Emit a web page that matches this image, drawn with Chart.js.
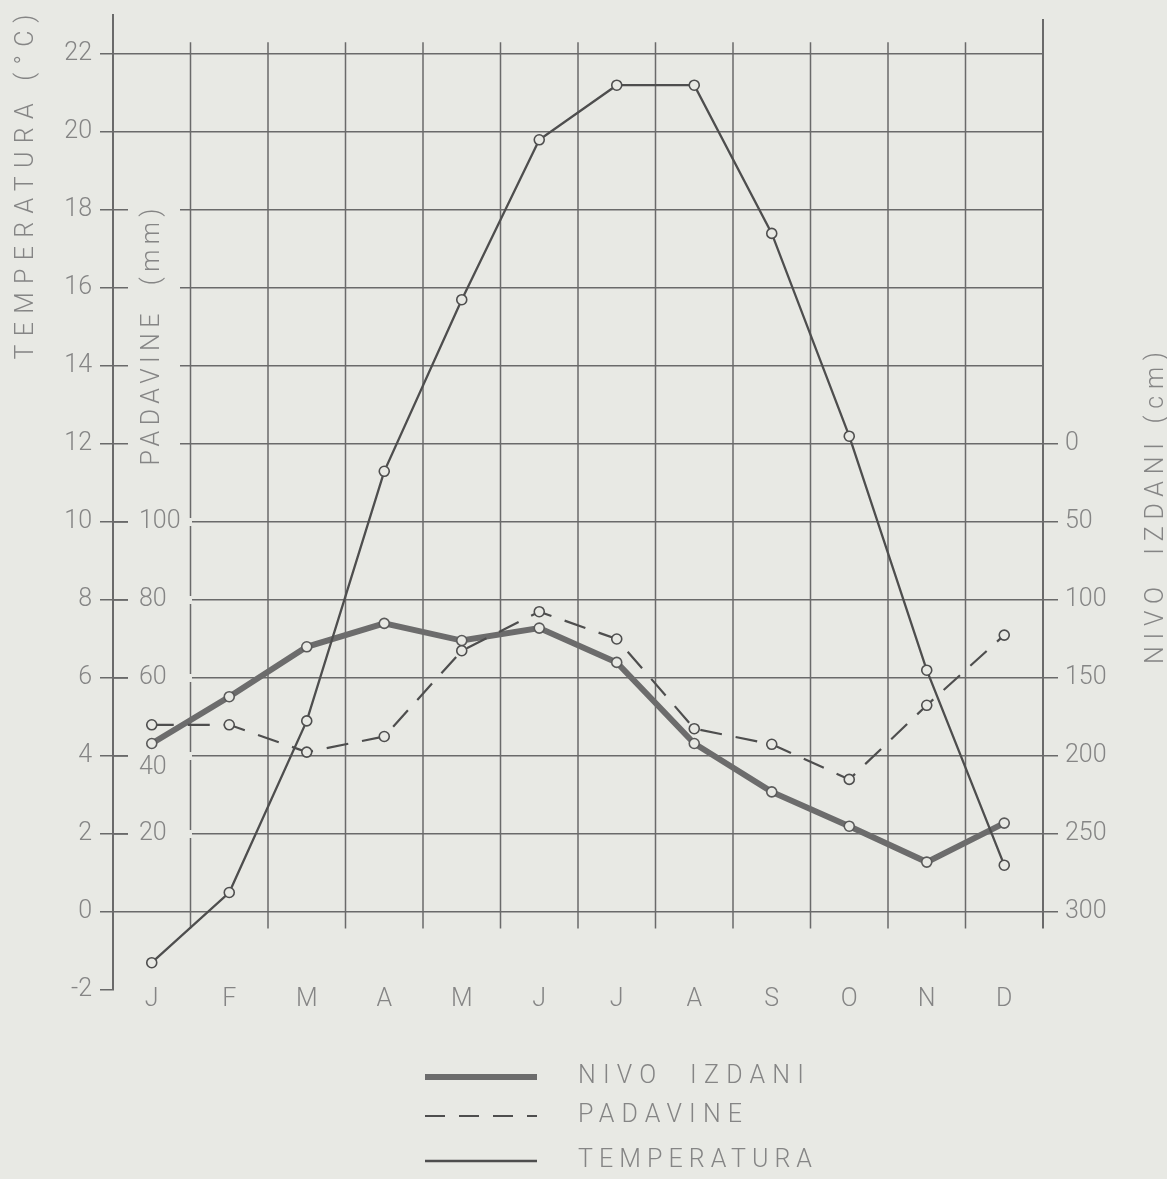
<!DOCTYPE html>
<html lang="hr">
  <head>
    <meta charset="UTF-8" />
    <title>Temperatura, padavine i nivo izdani</title>
    <script src="https://cdn.jsdelivr.net/npm/chart.js@4"></script>
    <style>
      body { margin: 0; background: #e8e9e4; }
      #wrap { width: 1167px; height: 1179px; position: relative; }
    </style>
  </head>
  <body>
    <div id="wrap"><canvas id="myChart"></canvas></div>

    <script>
      // monthly values
      const MONTHS = ['J', 'F', 'M', 'A', 'M', 'J', 'J', 'A', 'S', 'O', 'N', 'D'];
      const TEMPERATURA = [-1.3, 0.5, 4.9, 11.3, 15.7, 19.8, 21.2, 21.2, 17.4, 12.2, 6.2, 1.2]; // °C
      const PADAVINE = [48, 48, 41, 45, 67, 77, 70, 47, 43, 34, 53, 71];                      // mm
      const NIVO = [192, 162, 130, 115, 126, 118, 140, 192, 223, 245, 268, 243];              // cm

      const TEMP_TICKS = [-2, 0, 2, 4, 6, 8, 10, 12, 14, 16, 18, 20, 22];
      const PADAVINE_TICKS = [20, 40, 60, 80, 100];
      const NIVO_TICKS = [0, 50, 100, 150, 200, 250, 300];

      const BG = '#e8e9e4';
      const LINE = '#6a6a6a';
      const INK = '#4e4e4e';
      const TEXT = '#858585';
      const FONT = 'Roboto, "DejaVu Sans", sans-serif';

      // the three axes share one grid: 10 mm per °C, nivo 0 cm at 12 °C, 25 cm per °C downwards
      const T_MIN = -2, T_MAX = 23;
      const GRID_TOP = 22.3, GRID_BOTTOM = -0.42;

      function spacedText(ctx, text, cx, cy, width) {
        ctx.letterSpacing = '0px';
        const w = ctx.measureText(text).width;
        const sp = (width - w) / (text.length - 1);
        ctx.letterSpacing = sp + 'px';
        ctx.textAlign = 'left';
        ctx.fillText(text, cx - width / 2, cy);
        ctx.letterSpacing = '0px';
      }

      function noPad(s) {
        s.paddingTop = 0;
        s.paddingBottom = 0;
      }

      const decor = {
        id: 'decor',
        beforeDatasetsDraw(chart) {
          const { ctx, chartArea: ca } = chart;
          const x = chart.scales.x, y = chart.scales.y, yP = chart.scales.yP;
          ctx.save();

          // month columns: grid stops a little under 0 °C
          ctx.strokeStyle = LINE;
          ctx.lineWidth = 1.5;
          const step = x.getPixelForValue(1) - x.getPixelForValue(0);
          ctx.beginPath();
          for (let i = 0; i < MONTHS.length - 1; i++) {
            const px = x.getPixelForValue(i) + step / 2;
            ctx.moveTo(px, y.getPixelForValue(GRID_TOP));
            ctx.lineTo(px, y.getPixelForValue(GRID_BOTTOM));
          }
          ctx.stroke();

          // gaps in the grid behind the precipitation labels and title
          ctx.fillStyle = BG;
          PADAVINE_TICKS.forEach(v => {
            const py = yP.getPixelForValue(v);
            ctx.fillRect(ca.left + 15, py - 4, 64, 8);
          });
          ctx.fillRect(ca.left + 15, y.getPixelForValue(18) - 4, 52, y.getPixelForValue(12) - y.getPixelForValue(18) + 8);

          // right axis line ends with the grid
          ctx.lineWidth = 2;
          ctx.beginPath();
          ctx.moveTo(ca.right, y.getPixelForValue(22.9));
          ctx.lineTo(ca.right, y.getPixelForValue(GRID_BOTTOM));
          ctx.stroke();

          ctx.font = '300 25px ' + FONT;
          ctx.fillStyle = TEXT;
          ctx.textBaseline = 'middle';

          // month letters sit just under the -2 level
          ctx.textAlign = 'center';
          MONTHS.forEach((m, i) => {
            ctx.fillText(m, x.getPixelForValue(i), y.getPixelForValue(T_MIN) + 10);
          });

          // precipitation axis, drawn inside the plot
          ctx.lineWidth = 1.5;
          ctx.textAlign = 'left';
          PADAVINE_TICKS.forEach(v => {
            const py = yP.getPixelForValue(v);
            ctx.beginPath();
            ctx.moveTo(ca.left, py);
            ctx.lineTo(ca.left + 15, py);
            ctx.stroke();
            ctx.fillText(String(v), ca.left + 26, py + (v === 40 ? 12 : 0));
          });

          // axis titles
          ctx.save();
          ctx.translate(27, 187);
          ctx.rotate(-Math.PI / 2);
          spacedText(ctx, 'TEMPERATURA (°C)', 0, 0, 345);
          ctx.restore();

          ctx.save();
          ctx.translate(153, 337);
          ctx.rotate(-Math.PI / 2);
          spacedText(ctx, 'PADAVINE  (mm)', 0, 0, 257);
          ctx.restore();

          ctx.save();
          ctx.translate(1157, 508);
          ctx.rotate(-Math.PI / 2);
          spacedText(ctx, 'NIVO  IZDANI (cm)', 0, 0, 312);
          ctx.restore();

          ctx.restore();
        },
        afterDraw(chart) {
          const { ctx } = chart;
          const items = [
            { label: 'NIVO  IZDANI', width: 6, dash: [], color: '#6c6c6c', y: 1077, tw: 226 },
            { label: 'PADAVINE', width: 2.2, dash: [20, 14], color: INK, y: 1116, tw: 164 },
            { label: 'TEMPERATURA', width: 2.5, dash: [], color: INK, y: 1161, tw: 234 }
          ];
          ctx.save();
          items.forEach(it => {
            ctx.strokeStyle = it.color;
            ctx.lineWidth = it.width;
            ctx.setLineDash(it.dash);
            ctx.beginPath();
            ctx.moveTo(425, it.y);
            ctx.lineTo(537, it.y);
            ctx.stroke();
            ctx.setLineDash([]);
            ctx.font = '300 25px ' + FONT;
            ctx.fillStyle = TEXT;
            ctx.textBaseline = 'middle';
            spacedText(ctx, it.label, 578 + it.tw / 2, it.y, it.tw);
          });
          ctx.restore();
        }
      };

      function point(color) {
        return {
          pointRadius: 5,
          pointHoverRadius: 5,
          pointBackgroundColor: BG,
          pointBorderColor: color,
          pointBorderWidth: 1.6,
          tension: 0
        };
      }

      const ctx = document.getElementById('myChart').getContext('2d');
      const myChart = new Chart(ctx, {
        type: 'line',
        data: {
          labels: MONTHS,
          datasets: [
            Object.assign({
              label: 'TEMPERATURA',
              data: TEMPERATURA,
              yAxisID: 'y',
              borderColor: INK,
              borderWidth: 2.3
            }, point(INK)),
            Object.assign({
              label: 'PADAVINE',
              data: PADAVINE,
              yAxisID: 'yP',
              borderColor: INK,
              borderWidth: 2.2,
              borderDash: [22, 14]
            }, point(INK)),
            Object.assign({
              label: 'NIVO IZDANI',
              data: NIVO,
              yAxisID: 'yN',
              borderColor: '#6c6c6c',
              borderWidth: 6
            }, point('#5a5a5a'))
          ]
        },
        options: {
          responsive: true,
          maintainAspectRatio: false,
          animation: false,
          layout: { padding: { top: 15, bottom: 150, left: 0, right: 0 } },
          plugins: { legend: { display: false }, tooltip: { enabled: false } },
          scales: {
            x: {
              type: 'category',
              offset: true,
              grid: { display: false },
              border: { display: false },
              ticks: { display: false },
              afterFit: s => { s.height = 39; s.paddingLeft = 0; s.paddingRight = 0; }
            },
            y: {
              position: 'left',
              min: T_MIN,
              max: T_MAX,
              afterBuildTicks: s => { s.ticks = TEMP_TICKS.map(v => ({ value: v })); },
              grid: {
                color: c => c.tick && c.tick.value === -2 ? 'transparent' : LINE,
                lineWidth: 1.5,
                tickLength: 13,
                tickColor: LINE
              },
              border: { display: true, color: LINE, width: 2 },
              ticks: {
                padding: 8,
                color: TEXT,
                font: { family: FONT, size: 25, weight: 300 }
              },
              afterFit: s => { s.width = 113; noPad(s); }
            },
            yP: {
              display: false,
              min: T_MIN * 10,
              max: T_MAX * 10
            },
            yN: {
              position: 'right',
              reverse: true,
              min: (12 - T_MAX) * 25,
              max: (12 - T_MIN) * 25,
              afterBuildTicks: s => { s.ticks = NIVO_TICKS.map(v => ({ value: v })); },
              grid: { drawOnChartArea: false, color: LINE, lineWidth: 1.5, tickLength: 15 },
              border: { display: false },
              ticks: {
                padding: 7,
                color: TEXT,
                font: { family: FONT, size: 25, weight: 300 }
              },
              afterFit: s => { s.width = 124; noPad(s); }
            }
          }
        },
        plugins: [decor]
      });
    </script>
  </body>
</html>
